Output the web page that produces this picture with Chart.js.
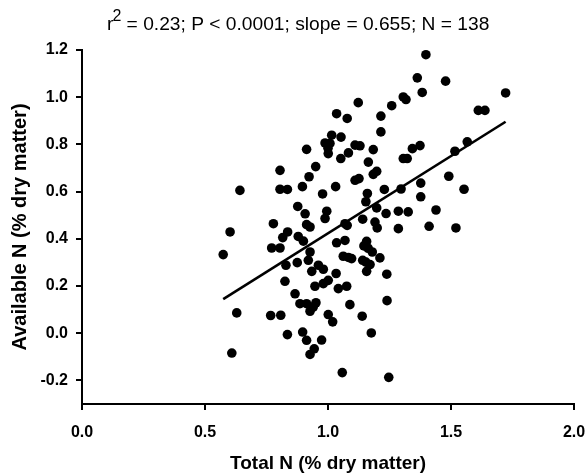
<!DOCTYPE html>
<html>
<head>
<meta charset="utf-8">
<script src="https://cdn.jsdelivr.net/npm/chart.js@4"></script>
<style>
  body { margin: 0; background: #fff; }
</style>
</head>
<body>
<canvas id="nChart" width="588" height="473"></canvas>
<script>
// Total N (x) and available N (y), both % dry matter
const totalN = [
    1.123, 1.035, 1.078, 1.015, 1.053, 0.988, 1.008, 1.001, 1.000, 1.110,
    1.130, 0.913, 1.083, 1.052, 1.164, 0.950, 0.805, 0.923, 1.110, 1.126,
    0.642, 0.805, 0.835, 0.896, 1.031, 0.978, 1.160, 1.154, 0.877, 0.907,
    0.995, 0.988, 1.398, 1.363, 1.478, 1.383, 1.722, 1.306, 1.317, 1.259,
    1.611, 1.638, 1.215, 1.215, 1.184, 1.343, 1.374, 1.306, 1.322, 1.516,
    1.566, 1.184, 1.198, 1.491, 1.377, 1.297, 1.229, 1.553, 1.377, 1.198,
    1.236, 1.286, 1.326, 1.439, 0.778, 0.602, 0.913, 0.927, 1.069, 1.078,
    1.141, 0.836, 0.816, 0.879, 0.900, 1.035, 1.069, 0.771, 0.805, 0.574,
    0.927, 1.062, 1.083, 1.096, 0.829, 0.875, 0.920, 0.961, 0.981, 0.934,
    1.033, 0.825, 1.001, 0.981, 0.947, 1.042, 1.076, 0.866, 0.886, 0.913,
    0.951, 0.927, 0.940, 0.629, 0.767, 0.808, 1.089, 1.001, 1.019, 1.139,
    0.835, 0.897, 0.913, 0.974, 0.944, 0.927, 0.609, 1.058, 1.191, 1.200,
    1.286, 1.411, 1.520, 1.157, 1.146, 1.163, 1.180, 1.211, 1.141, 1.171,
    1.154, 1.157, 1.239, 1.240, 1.176, 1.247
];
const availableN = [
    0.977, 0.930, 0.910, 0.839, 0.831, 0.806, 0.804, 0.761, 0.784, 0.797,
    0.794, 0.779, 0.764, 0.740, 0.725, 0.706, 0.690, 0.663, 0.648, 0.655,
    0.605, 0.610, 0.609, 0.621, 0.621, 0.590, 0.592, 0.557, 0.537, 0.506,
    0.517, 0.486, 1.180, 1.082, 1.068, 1.020, 1.018, 1.001, 0.990, 0.964,
    0.944, 0.944, 0.920, 0.853, 0.778, 0.782, 0.795, 0.740, 0.740, 0.771,
    0.811, 0.673, 0.686, 0.665, 0.636, 0.611, 0.609, 0.610, 0.578, 0.531,
    0.507, 0.517, 0.514, 0.522, 0.464, 0.429, 0.460, 0.450, 0.464, 0.457,
    0.483, 0.429, 0.405, 0.410, 0.390, 0.383, 0.393, 0.361, 0.361, 0.333,
    0.344, 0.326, 0.321, 0.316, 0.288, 0.299, 0.309, 0.288, 0.271, 0.262,
    0.253, 0.220, 0.224, 0.210, 0.199, 0.189, 0.199, 0.167, 0.125, 0.125,
    0.129, 0.093, 0.111, 0.086, 0.075, 0.076, 0.121, 0.079, 0.048, 0.072,
    -0.006, 0.005, -0.030, -0.029, -0.066, -0.090, -0.084, -0.167, 0.471, 0.446,
    0.443, 0.453, 0.446, 0.389, 0.370, 0.360, 0.344, 0.319, 0.309, 0.291,
    0.301, 0.262, 0.250, 0.138, 0.001, -0.187
];

const xTicks = [0, 0.5, 1.0, 1.5, 2.0];
const yTicks = [-0.2, 0, 0.2, 0.4, 0.6, 0.8, 1.0, 1.2];

// regression line
const slope = 0.655;
const intercept = -0.232;
const statsText = " = 0.23; P < 0.0001; slope = 0.655; N = 138";

const points = totalN.map((x, i) => ({ x: x, y: availableN[i] }));
const xMin = Math.min(...totalN);
const xMax = Math.max(...totalN);
const fitLine = [
    { x: xMin, y: intercept + slope * xMin },
    { x: xMax, y: intercept + slope * xMax }
];

const font = "'Liberation Sans', Arial, sans-serif";

// title with the superscript 2 of r squared
const statsTitle = {
    id: "statsTitle",
    afterDraw(chart) {
        const ctx = chart.ctx;
        ctx.save();
        ctx.fillStyle = "#000";
        ctx.textBaseline = "alphabetic";
        let x = 107;
        ctx.font = "19.2px " + font;
        ctx.fillText("r", x, 30);
        x += ctx.measureText("r").width - 1;
        ctx.font = "16px " + font;
        ctx.fillText("2", x, 21);
        x += ctx.measureText("2").width;
        ctx.font = "19.2px " + font;
        ctx.fillText(statsText, x, 30);
        ctx.restore();
    }
};

new Chart(document.getElementById("nChart"), {
    type: "scatter",
    data: {
        datasets: [{
            data: points,
            pointRadius: 4.8,
            pointBackgroundColor: "#000",
            pointBorderWidth: 0,
            clip: false
        }, {
            type: "line",
            data: fitLine,
            borderColor: "#000",
            borderWidth: 2.6,
            pointRadius: 0,
            fill: false,
            clip: false
        }]
    },
    options: {
        responsive: false,
        animation: false,
        layout: { padding: { top: 50, right: 14, left: 0, bottom: 0 } },
        plugins: {
            legend: { display: false },
            tooltip: { enabled: false }
        },
        scales: {
            x: {
                type: "linear",
                min: 0,
                max: 2,
                afterBuildTicks: scale => { scale.ticks = xTicks.map(v => ({ value: v })); },
                afterFit: scale => {
                    scale.height = 69;
                    scale.paddingLeft = 0;
                    scale.paddingRight = 0;
                },
                border: { color: "#000", width: 2 },
                grid: { drawOnChartArea: false, color: "#000", lineWidth: 2, tickLength: 6 },
                ticks: {
                    color: "#000",
                    padding: 13,
                    maxRotation: 0,
                    font: { family: font, size: 16, weight: "bold" },
                    callback: v => v.toFixed(1)
                },
                title: {
                    display: true,
                    text: "Total N (% dry matter)",
                    color: "#000",
                    padding: { top: 0, bottom: 0 },
                    font: { family: font, size: 19, weight: "bold", lineHeight: 1 }
                }
            },
            y: {
                type: "linear",
                min: -0.3,
                max: 1.2,
                afterBuildTicks: scale => { scale.ticks = yTicks.map(v => ({ value: v })); },
                afterFit: scale => {
                    scale.width = 82;
                    scale.paddingTop = 0;
                    scale.paddingBottom = 0;
                },
                border: { color: "#000", width: 2 },
                grid: { drawOnChartArea: false, color: "#000", lineWidth: 2, tickLength: 6 },
                ticks: {
                    color: "#000",
                    padding: 8,
                    font: { family: font, size: 16, weight: "bold" },
                    callback: v => v.toFixed(1)
                },
                title: {
                    display: true,
                    text: "Available N (% dry matter)",
                    color: "#000",
                    padding: { top: 8, bottom: 0 },
                    font: { family: font, size: 20, weight: "bold", lineHeight: 1.2 }
                }
            }
        }
    },
    plugins: [statsTitle]
});
</script>
</body>
</html>
